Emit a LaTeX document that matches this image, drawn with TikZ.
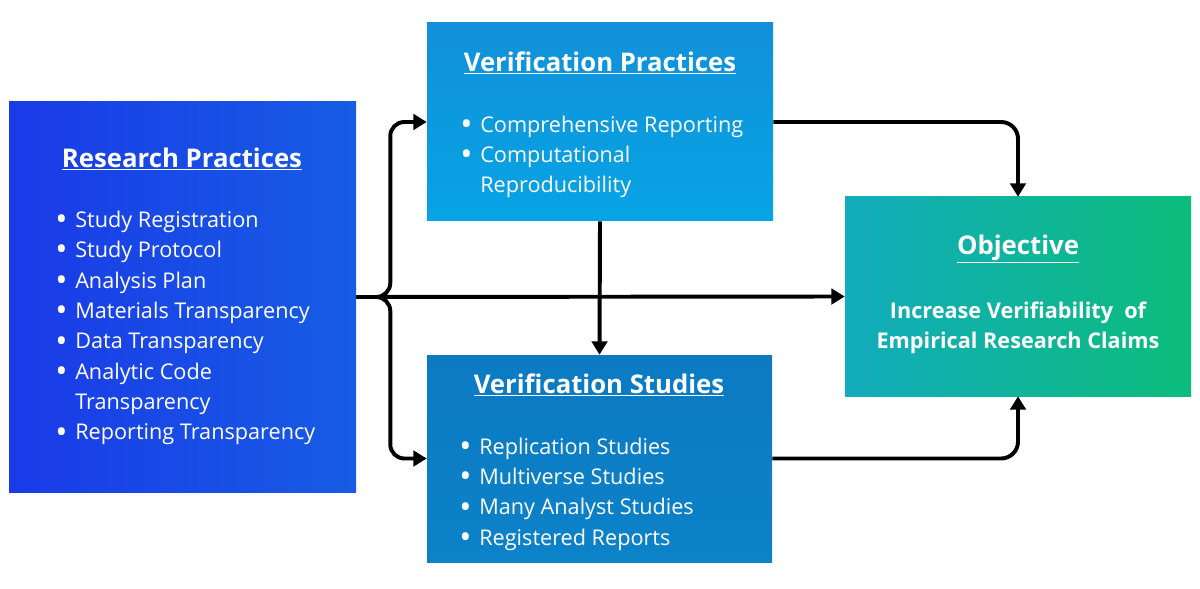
\documentclass[tikz,border=0pt]{standalone}
\usepackage{fontspec}
\usepackage{graphicx}
\setmainfont{Open Sans}
\usetikzlibrary{arrows.meta}
\definecolor{rpleft}{HTML}{1A3AE8}
\definecolor{rpright}{HTML}{175CE4}
\definecolor{vptop}{HTML}{1190D9}
\definecolor{vpbottom}{HTML}{07A4E5}
\definecolor{vstop}{HTML}{0B7AC3}
\definecolor{vsbottom}{HTML}{0C82C8}
\definecolor{objleft}{HTML}{12ACBC}
\definecolor{objright}{HTML}{0CBC7B}
\newcommand{\block}[3]{
	\node[#3, minimum width = #1*0.025cm, minimum height = #2*0.025cm]
}
\newcommand{\bul}{\makebox[0.5cm][l]{\raisebox{-0.15em}{\scalebox{1.5}{•}}}}
\newcommand{\nobul}{\hspace*{0.5cm}}
\tikzset{
	box/.style = {rectangle, inner sep = 0pt},
	ttl/.style = {text = white, font = \fontsize{18.3}{21}\selectfont\bfseries},
	lst/.style = {text = white, align = left, inner sep = 0pt, font = \fontsize{15.4}{21.6}\selectfont},
	arr/.style = {line width = 2.8pt, -{Triangle[length = 9.5pt, width = 11pt]}}
}

\begin{document}
\begin{tikzpicture}[x = 0.025cm, y = -0.025cm]

		\useasboundingbox (0,0) rectangle (1200,589);

		\block{347}{390}{box, left color = rpleft, right color = rpright} (research) at (182.5,297) {};
		\block{346}{198}{box, top color = vptop, bottom color = vpbottom} (vpract) at (600,122) {};
		\block{345}{207}{box, top color = vstop, bottom color = vsbottom} (vstud) at (599.5,458.5) {};
		\block{346}{199}{box, left color = objleft, right color = objright} (goal) at (1018,296.5) {};

		\node[ttl] (rptitle) at (182,159) {\underline{Research Practices}};
		\node[lst, anchor = west] (rplist) at (55,328) {\bul Study Registration\\ \bul Study Protocol\\ \bul Analysis Plan\\ \bul Materials Transparency\\ \bul Data Transparency\\ \bul Analytic Code\\ \nobul Transparency\\ \bul Reporting Transparency};

		\node[ttl] (vptitle) at (600,63) {\underline{Verification Practices}};
		\node[lst, anchor = west] (vplist) at (460,157) {\bul Comprehensive Reporting\\ \bul Computational\\ \nobul Reproducibility};

		\node[ttl] (vstitle) at (599,385) {\underline{Verification Studies}};
		\node[lst, anchor = west] (vslist) at (459,494) {\bul Replication Studies\\ \bul Multiverse Studies\\ \bul Many Analyst Studies\\ \bul Registered Reports};

		\node[ttl] (goaltitle) at (1018,249) {\underline{Objective}};
		\node[lst, align = center, font = \fontsize{15.4}{21.6}\selectfont\bfseries] (goaltext) at (1018,328) {Increase Verifiability\ \ of\\ Empirical Research Claims};

		\draw[arr] (research.east) -- (goal.west);
		\draw[arr, rounded corners = 10] (research.east) -- ++(34,0) |- (vpract.west);
		\draw[arr, rounded corners = 10] (research.east) -- ++(34,0) |- (vstud.west);
		\draw[arr] (vpract.south) -- (vstud.north);
		\draw[arr, rounded corners = 12] (vpract.east) -| (goal.north);
		\draw[arr, rounded corners = 12] (vstud.east) -| (goal.south);
	\end{tikzpicture}
\end{document}
